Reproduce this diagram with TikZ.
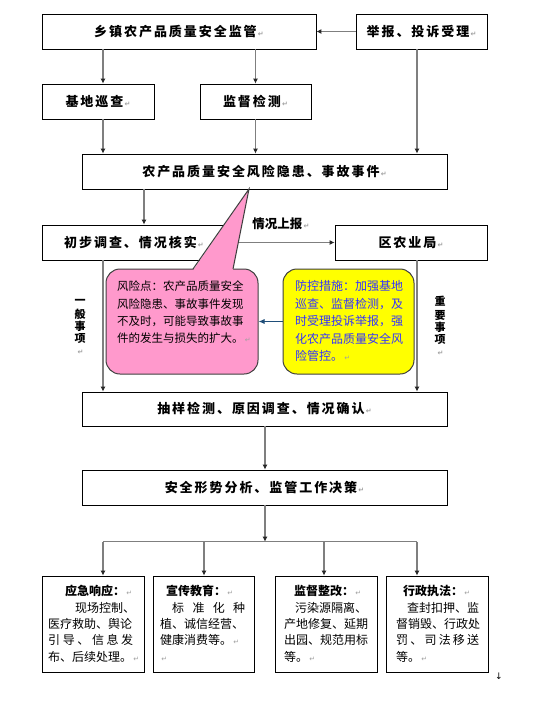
\documentclass[tikz,border=0pt]{standalone}
\usepackage{fontspec}
\setmainfont{Noto Sans CJK SC}
\newfontfamily\cjk{Noto Sans CJK SC}
\newfontfamily\cjkw[LetterSpace=15]{Noto Sans CJK SC}
\newfontfamily\dejavu{DejaVu Sans}
\usetikzlibrary{arrows.meta,calc}
\definecolor{linegray}{HTML}{7F7F7F}
\definecolor{pinkfill}{HTML}{FF99CC}
\definecolor{yelfill}{HTML}{FFFF00}
\definecolor{bluetext}{HTML}{3333FF}
\definecolor{navyarr}{HTML}{1F4E79}
\definecolor{retgray}{HTML}{A0A0A0}
\definecolor{callborder}{HTML}{404040}
\newcommand{\rmk}{{\dejavu\color{retgray}\fontsize{7}{7}\selectfont\,↵}}
\tikzset{
  box/.style={draw=black, line width=0.8pt, fill=white, inner sep=0pt},
  title/.style={font=\fontsize{13}{15}\selectfont\cjkw\bfseries, text height=11.4pt, text depth=1.6pt},
  arr/.style={draw=linegray, line width=1.1pt, -{Latex[length=5pt,width=5pt,color=black!85]}},
  plainline/.style={draw=linegray, line width=1.1pt},
  body/.style={anchor=north west, inner sep=0pt, align=left, font=\fontsize{12}{16.4}\selectfont\cjk},
  vlabel/.style={anchor=north, inner sep=0pt, align=center, font=\fontsize{11}{12}\selectfont\cjk\bfseries},
  callout/.style={draw=callborder, line width=1pt, rounded corners=14pt, inner sep=0pt}
}
\begin{document}
\begin{tikzpicture}[x=1pt,y=-1pt]
\useasboundingbox (0,0) rectangle (547,702);
\fill[white] (0,0) rectangle (547,702);

% boxes
\node[box, title, minimum width=274pt, minimum height=35pt] (top) at (179,31.5) {乡镇农产品质量安全监管\rmk};
\node[box, title, minimum width=131pt, minimum height=35pt] (report) at (421.5,31.5) {举报、投诉受理\rmk};
\node[box, title, minimum width=112pt, minimum height=35pt] (base) at (98,101.5) {基地巡查\rmk};
\node[box, title, minimum width=111pt, minimum height=35pt] (monitor) at (255.5,101.5) {监督检测\rmk};
\node[box, title, minimum width=365pt, minimum height=35pt] (risk) at (264.5,171.5) {农产品质量安全风险隐患、事故事件\rmk};
\node[box, title, minimum width=185pt, minimum height=35pt] (init) at (134.5,242.5) {初步调查、情况核实\rmk\hspace*{1pt}};
\node[box, title, minimum width=152pt, minimum height=35pt] (bureau) at (411,242.5) {区农业局\rmk};
\node[box, title, minimum width=365pt, minimum height=34pt] (sample) at (264.5,409) {抽样检测、原因调查、情况确认\rmk};
\node[box, title, minimum width=365pt, minimum height=35pt] (safety) at (264.5,487.5) {安全形势分析、监管工作决策\rmk};

\node[box, minimum width=102pt, minimum height=96pt] (bA) at (93,624) {};
\node[box, minimum width=101pt, minimum height=96pt] (bB) at (203.5,624) {};
\node[box, minimum width=102pt, minimum height=96pt] (bC) at (326,624) {};
\node[box, minimum width=102pt, minimum height=96pt] (bD) at (437,624) {};

% helper coordinates
\coordinate (xA) at (103,0);
\coordinate (xR) at (417,0);
\coordinate (xM) at (144,0);
\coordinate (xC) at (265,0);
\coordinate (xB2) at (204,0);
\coordinate (xC2) at (324,0);
\coordinate (jn) at (265,541.7);

% connectors
\draw[arr] (report.west) -- (top.east);
\draw[arr] (top.south -| xA) -- (base.north -| xA);
\draw[arr] (top.south -| monitor) -- (monitor.north);
\draw[arr] (base.south -| xA) -- (risk.north -| xA);
\draw[arr] (monitor.south) -- (risk.north -| monitor);
\draw[arr] (report.south -| xR) -- (risk.north -| xR);
\draw[arr] (risk.south -| xM) -- (init.north -| xM);
\draw[arr] (init.east) -- (bureau.west);
\node[inner sep=0pt, font=\fontsize{12.5}{14}\selectfont\cjk\bfseries] (lbl) at (281,224) {情况上报\rmk};
\draw[arr] (init.south -| xA) -- (sample.north -| xA);
\draw[arr] (bureau.south -| xR) -- (sample.north -| xR);
\draw[arr] (sample.south -| xC) -- (safety.north -| xC);
\draw[arr] (safety.south -| xC) -- (jn);
\draw[plainline] (jn -| xA) -- (jn -| xR);
\draw[arr] (jn -| xA) -- (bA.north -| xA);
\draw[arr] (jn -| xB2) -- (bB.north -| xB2);
\draw[arr] (jn -| xC2) -- (bC.north -| xC2);
\draw[arr] (jn -| xR) -- (bD.north -| xR);

% side labels
\node[vlabel] (gen) at (80,295.8) {\strut 一\\般\\事\\项\\\rmk};
\node[vlabel] (imp) at (440,295.8) {\strut 重\\要\\事\\项\\\rmk};

% callouts
\node[callout, fill=pinkfill, minimum width=152pt, minimum height=105pt] (pink) at (182,321.5) {};
\fill[pinkfill] (193,270.4) -- (249,189) -- (233,270.4) -- cycle;
\draw[callborder, line width=1pt, line join=miter] (193,269) -- (249,189) -- (233,269);
\node[anchor=north west, inner sep=0pt, align=left, font=\fontsize{11.5}{17.3}\selectfont\cjk] (ptext) at (117,278.5)
  {\strut 风险点：农产品质量安全\\风险隐患、事故事件发现\\不及时，可能导致事故事\\件的发生与损失的扩大。\rmk};

\node[callout, fill=yelfill, minimum width=131pt, minimum height=105pt] (yel) at (348.5,321.5) {};
\node[anchor=north west, inner sep=0pt, align=left, text=bluetext, font=\fontsize{12}{17.5}\selectfont\cjk] (ytext) at (295,278.5)
  {\strut 防控措施：加强基地\\巡查、监督检测，及\\时受理投诉举报，强\\化农产品质量安全风\\险管控。\rmk};
\draw[navyarr, line width=1pt, -{Latex[length=6pt,width=5pt]}] (yel.west) -- (pink.east);

% bottom box texts
\node[body] (tA) at (48,584.1) {\strut\hspace*{17pt}{\bfseries 应急响应：}\rmk\\
\hspace*{27pt}现场控制、\\
医疗救助、舆论\\
\makebox[85pt][s]{引\hfill 导\hfill 、\hfill 信\hfill 息\hfill 发}\\
布、后续处理。\rmk};
\node[body] (tB) at (160,584.1) {\strut\hspace*{6pt}{\bfseries 宣传教育：}\rmk\\
\hspace*{12pt}\makebox[73pt][s]{标\hfill 准\hfill 化\hfill 种}\\
植、诚信经营、\\
健康消费等。\rmk\\
\rmk};
\node[body] (tC) at (284,584.1) {\strut\hspace*{10pt}{\bfseries 监督整改：}\rmk\\
\hspace*{11pt}污染源隔离、\\
产地修复、延期\\
出园、规范用标\\
等。\rmk};
\node[body] (tD) at (396,584.1) {\strut\hspace*{7pt}{\bfseries 行政执法：}\rmk\\
\hspace*{11pt}查封扣押、监\\
督销毁、行政处\\
\makebox[83pt][s]{罚\hfill 、\hfill 司\hfill 法\hfill 移\hfill 送}\\
等。\rmk};

\node[inner sep=0pt, font=\dejavu\fontsize{9}{9}\selectfont] (endmark) at (499,676) {↓};
\end{tikzpicture}
\end{document}
